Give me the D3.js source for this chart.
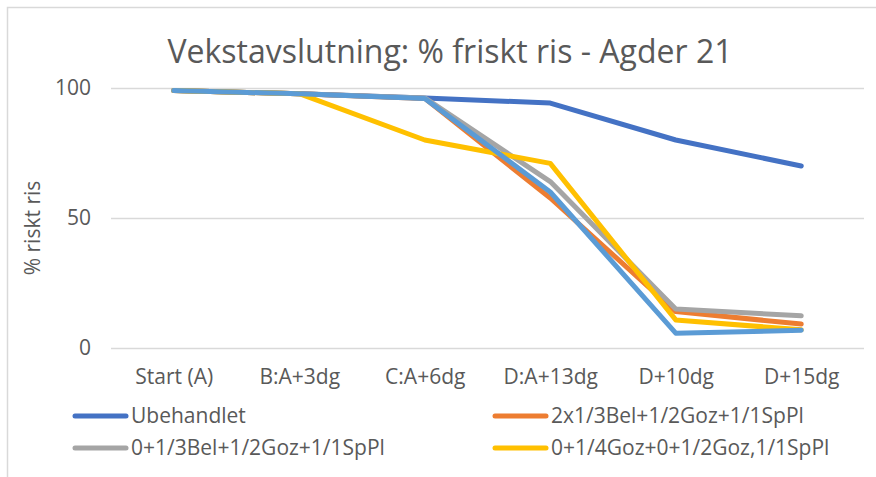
<!DOCTYPE html>
<html>
<head>
<meta charset="utf-8">
<script src="https://cdn.jsdelivr.net/npm/d3@7"></script>
<style>
  body { margin: 0; background: #fff; }
  svg { display: block; font-family: 'Open Sans', Lato, sans-serif; }
</style>
</head>
<body>
<div id="chart"></div>
<script>
'use strict'

const CATEGORIES = ['Start (A)', 'B:A+3dg', 'C:A+6dg', 'D:A+13dg', 'D+10dg', 'D+15dg']
const Y_TICKS = [0, 50, 100]

const UBEHANDLET = [99, 97.8, 96.2, 94.2, 80, 70]
const BEL_2X = [99, 97.8, 96, 57.7, 14, 9.2]
const BEL_0 = [99, 97.8, 96.2, 64, 15, 12.4]
const GOZ_0 = [99, 97.8, 80, 71, 10.8, 7]
const SERIES_5 = [99, 97.8, 96, 60, 5.7, 6.8]

const SERIES = [
  { name: 'Ubehandlet', values: UBEHANDLET, color: '#4472C4' },
  { name: '2x1/3Bel+1/2Goz+1/1SpPl', values: BEL_2X, color: '#ED7D31' },
  { name: '0+1/3Bel+1/2Goz+1/1SpPl', values: BEL_0, color: '#A5A5A5' },
  { name: '0+1/4Goz+0+1/2Goz,1/1SpPl', values: GOZ_0, color: '#FFC000' },
  { name: 'Serie5', values: SERIES_5, color: '#5B9BD5' }
]
// only the first four fit in the legend box
const LEGEND_COUNT = 4

const WIDTH = 876
const HEIGHT = 477
const PLOT = { left: 111, right: 864, top: 88, bottom: 348 }
const TEXT_COLOR = '#595959'
const LABEL_SIZE = '21px'

const svg = d3.select('#chart').append('svg')
  .attr('width', WIDTH)
  .attr('height', HEIGHT)

// chart frame (only top and left edges are visible in the crop)
svg.append('path')
  .attr('d', 'M7.5,' + HEIGHT + 'V7.5H' + WIDTH)
  .style('fill', 'none')
  .style('stroke', '#d9d9d9')
  .style('stroke-width', '1.5px')

const x = d3.scalePoint()
  .domain(CATEGORIES)
  .range([PLOT.left, PLOT.right])
  .padding(0.5)

const y = d3.scaleLinear()
  .domain([0, 100])
  .range([PLOT.bottom, PLOT.top])

svg.append('text')
  .attr('x', 450)
  .attr('y', 63)
  .attr('text-anchor', 'middle')
  .style('font-size', '32px')
  .style('fill', TEXT_COLOR)
  .text('Vekstavslutning: % friskt ris - Agder 21')

const yAxis = svg.append('g')
  .attr('transform', 'translate(' + PLOT.left + ',0)')
  .call(d3.axisLeft(y).tickValues(Y_TICKS).tickSize(-(PLOT.right - PLOT.left)).tickPadding(20))
yAxis.select('.domain').remove()
yAxis.selectAll('line').style('stroke', '#d9d9d9').style('stroke-width', '1.5px')
yAxis.selectAll('text')
  .style('font-size', LABEL_SIZE)
  .style('fill', TEXT_COLOR)
  .style('font-family', "'Open Sans', Lato, sans-serif")

const xAxis = svg.append('g')
  .attr('transform', 'translate(0,' + PLOT.bottom + ')')
  .call(d3.axisBottom(x).tickSize(0).tickPadding(21))
xAxis.select('.domain').remove()
xAxis.selectAll('text')
  .style('font-size', LABEL_SIZE)
  .style('fill', TEXT_COLOR)
  .style('font-family', "'Open Sans', Lato, sans-serif")

svg.append('text')
  .attr('transform', 'translate(40,' + 228 + ') rotate(-90)')
  .attr('text-anchor', 'middle')
  .style('font-size', LABEL_SIZE)
  .style('fill', TEXT_COLOR)
  .text('% riskt ris')

const line = d3.line()
  .x((d, i) => x(CATEGORIES[i]))
  .y(d => y(d))

SERIES.forEach(s => {
  svg.append('path')
    .datum(s.values)
    .style('fill', 'none')
    .style('stroke', s.color)
    .style('stroke-width', '5px')
    .style('stroke-linecap', 'round')
    .style('stroke-linejoin', 'round')
    .attr('d', line)
})

const legend = svg.append('g')
SERIES.slice(0, LEGEND_COUNT).forEach((s, i) => {
  const lx = i % 2 === 0 ? 75 : 495
  const ly = i < 2 ? 416 : 448
  legend.append('line')
    .attr('x1', lx).attr('x2', lx + 51)
    .attr('y1', ly).attr('y2', ly)
    .style('stroke', s.color)
    .style('stroke-width', '5px')
    .style('stroke-linecap', 'round')
  legend.append('text')
    .attr('x', lx + 56)
    .attr('y', ly + 7)
    .style('font-size', LABEL_SIZE)
    .style('fill', TEXT_COLOR)
    .text(s.name)
})
</script>
</body>
</html>
